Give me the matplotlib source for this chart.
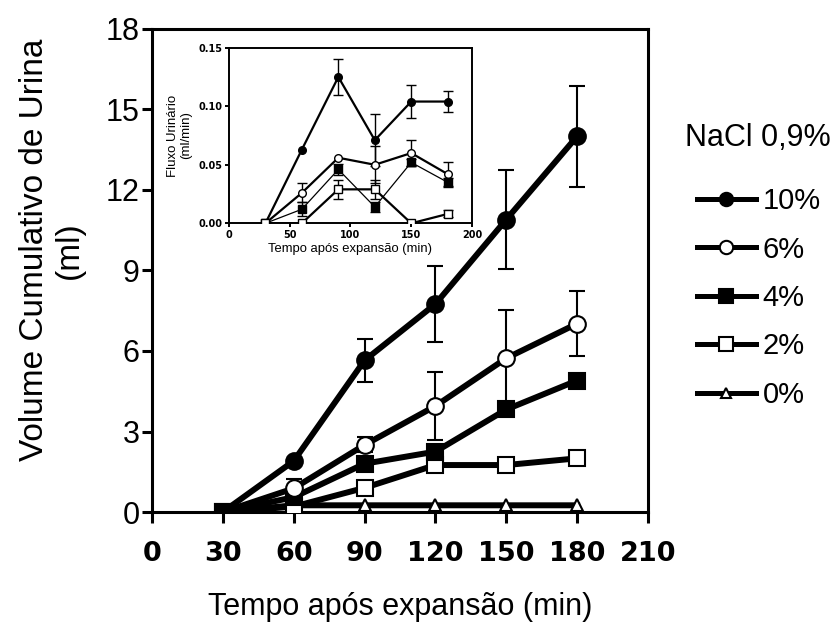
import matplotlib
matplotlib.use("Agg")
import matplotlib.pyplot as plt
import numpy as np

# main panel: cumulative urine volume (ml)
tempo = [30, 60, 90, 120, 150, 180]
grupos = ["10%", "6%", "4%", "2%", "0%"]
vol_10 = [0.0, 1.90, 5.65, 7.75, 10.90, 14.00]
vol_6 = [0.0, 0.88, 2.50, 3.95, 5.73, 7.02]
vol_4 = [0.0, 0.55, 1.80, 2.25, 3.82, 4.90]
vol_2 = [0.0, 0.20, 0.90, 1.75, 1.75, 2.00]
vol_0 = [0.0, 0.25, 0.25, 0.25, 0.25, 0.25]
err_10 = [0.0, 0.0, 0.80, 1.43, 1.84, 1.87]
err_6 = [0.0, 0.35, 0.28, 1.25, 1.78, 1.20]
err_4 = [0.0, 0.0, 0.0, 0.0, 0.0, 0.0]
err_2 = [0.0, 0.0, 0.0, 0.0, 0.0, 0.0]
err_0 = [0.0, 0.0, 0.0, 0.0, 0.0, 0.0]

# inset: urinary flow (ml/min), 0% group not shown
fluxo_10 = [0.0, 0.063, 0.125, 0.071, 0.104, 0.104]
fluxo_6 = [0.0, 0.026, 0.056, 0.050, 0.060, 0.042]
fluxo_4 = [0.0, 0.012, 0.046, 0.014, 0.052, 0.035]
fluxo_2 = [0.0, 0.0, 0.029, 0.029, 0.0, 0.008]
efluxo_10 = [0.0, 0.0, 0.015, 0.022, 0.014, 0.009]
efluxo_6 = [0.0, 0.008, 0.0, 0.016, 0.011, 0.010]
efluxo_4 = [0.0, 0.006, 0.005, 0.004, 0.003, 0.004]
efluxo_2 = [0.0, 0.0, 0.008, 0.008, 0.0, 0.003]

SANS = "Liberation Sans"

fig = plt.figure(figsize=(8.36, 6.26), dpi=100)
ax = fig.add_axes([0.1818, 0.1821, 0.5933, 0.7716])

estilos = {
    "10%": dict(marker="o", mfc="black", ms=12),
    "6%": dict(marker="o", mfc="white", ms=12),
    "4%": dict(marker="s", mfc="black", ms=12),
    "2%": dict(marker="s", mfc="white", ms=12),
    "0%": dict(marker="^", mfc="white", ms=9),
}
series = [vol_10, vol_6, vol_4, vol_2, vol_0]
erros = [err_10, err_6, err_4, err_2, err_0]

for nome, y, e in zip(grupos, series, erros):
    e = np.array(e)
    ax.errorbar(tempo, y, yerr=np.where(e > 0, e, np.nan), fmt="none",
                ecolor="black", elinewidth=1.5, capsize=6, capthick=1.5, zorder=2)
for nome, y in reversed(list(zip(grupos, series))):
    ax.plot(tempo, y, color="black", lw=4.3, mec="black", mew=1.5,
            label=nome, zorder=3, **estilos[nome])

ax.set_xlim(0, 210)
ax.set_ylim(0, 18)
ax.set_xticks(np.arange(0, 211, 30))
ax.set_yticks(np.arange(0, 19, 3))
for s in ax.spines.values():
    s.set_linewidth(2.2)
ax.tick_params(axis="x", direction="out", length=8, width=2.2, pad=13)
ax.tick_params(axis="y", direction="out", length=7, width=2.2, pad=2)
for t in ax.get_xticklabels():
    t.set_fontfamily("DejaVu Sans")
    t.set_fontweight("bold")
    t.set_fontsize(19.5)
for t in ax.get_yticklabels():
    t.set_fontfamily(SANS)
    t.set_fontsize(22)
ax.set_xlabel("Tempo após expansão (min)", fontfamily=SANS, fontsize=22, labelpad=18)
ax.set_ylabel("Volume Cumulativo de Urina\n(ml)", fontfamily=SANS, fontsize=24,
              linespacing=1.15)
ax.yaxis.set_label_coords(-0.135, 0.542)

# legend: title as plain text, entries from the plotted lines
fig.text(685 / 836, 1 - 138 / 626, "NaCl 0,9%", fontfamily=SANS, fontsize=22,
         ha="left", va="center")
handles, labels = ax.get_legend_handles_labels()
ordem = [labels.index(g) for g in grupos]
leg = fig.legend([handles[i] for i in ordem], [labels[i] for i in ordem],
                 loc="upper left", bbox_to_anchor=(0.834, 0.701),
                 frameon=False, prop={"family": SANS, "size": 21},
                 handlelength=2.0, handletextpad=0.24, borderaxespad=0,
                 labelspacing=0.70, markerscale=0.8, borderpad=0)
for h in leg.legend_handles:
    h.set_linewidth(3.6)

# inset
ins = fig.add_axes([0.2739, 0.6433, 0.2907, 0.2805])
fluxos = [fluxo_10, fluxo_6, fluxo_4, fluxo_2]
efluxos = [efluxo_10, efluxo_6, efluxo_4, efluxo_2]
larguras = [1.6, 1.6, 0.9, 1.6]
for nome, y, e, lw in zip(grupos[:4], fluxos, efluxos, larguras):
    e = np.array(e)
    ins.errorbar(tempo, y, yerr=np.where(e > 0, e, np.nan), fmt="none",
                 ecolor="black", elinewidth=1.0, capsize=3.5, capthick=1.0, zorder=2)
    st = dict(estilos[nome])
    st["ms"] = 5.5
    ins.plot(tempo, y, color="black", lw=lw, mec="black", mew=1.0, zorder=3, **st)

ins.set_xlim(0, 200)
ins.set_ylim(0, 0.15)
ins.set_xticks([0, 50, 100, 150, 200])
ins.set_yticks([0, 0.05, 0.10, 0.15])
ins.set_yticklabels(["0.00", "0.05", "0.10", "0.15"])
for s in ins.spines.values():
    s.set_linewidth(1.4)
ins.tick_params(direction="out", length=3, width=1.4, pad=1.5)
for t in ins.get_xticklabels() + ins.get_yticklabels():
    t.set_fontfamily("DejaVu Sans")
    t.set_fontweight("bold")
    t.set_fontsize(7)
ins.set_xlabel("Tempo após expansão (min)", fontfamily=SANS, fontsize=9.4, labelpad=2.5)
ins.set_ylabel("Fluxo Urinário\n(ml/min)", fontfamily=SANS, fontsize=9.5,
               labelpad=5, linespacing=1.1)

fig.savefig("out.png", dpi=100)
